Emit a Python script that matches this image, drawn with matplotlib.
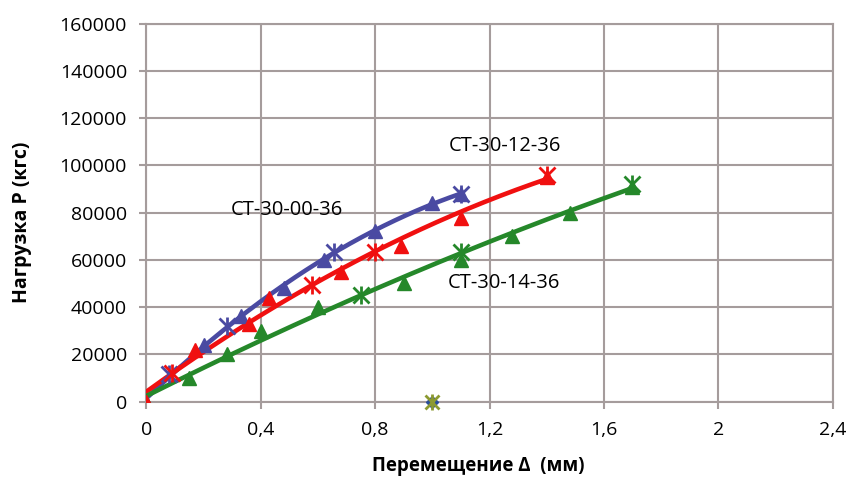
import numpy as np
import matplotlib
matplotlib.use("Agg")
import matplotlib.pyplot as plt

plt.rcParams['font.family'] = ['Open Sans', 'DejaVu Sans']

# ---- data ----
blue_tri_x = [0, 0.20, 0.33, 0.48, 0.62, 0.80, 1.00, 1.10]
blue_tri_y = [0, 24000, 36000, 48000, 60000, 72000, 84000, 88000]
blue_star_x = [0.08, 0.28, 0.655, 1.10]
blue_star_y = [11500, 32000, 63500, 88000]

red_tri_x = [0, 0.17, 0.36, 0.43, 0.68, 0.89, 1.10, 1.40]
red_tri_y = [0, 22000, 33000, 44000, 55000, 66000, 77500, 95000]
red_star_x = [0.09, 0.58, 0.80, 1.40]
red_star_y = [12000, 49500, 63500, 96000]

green_tri_x = [0, 0.15, 0.28, 0.40, 0.60, 0.90, 1.10, 1.28, 1.48, 1.70]
green_tri_y = [0, 10000, 20000, 30000, 40000, 50000, 60000, 70000, 80000, 91000]
green_star_x = [0.75, 1.10, 1.70]
green_star_y = [45000, 63500, 92000]

extra_x = [1.0]
extra_y = [0]

labels = ['СТ-30-00-36', 'СТ-30-12-36', 'СТ-30-14-36']
label_pos_x = [0.49, 1.255, 1.25]
label_pos_y = [81000, 108000, 50000]

x_ticks = [0, 0.4, 0.8, 1.2, 1.6, 2.0, 2.4]
x_tick_labels = ['0', '0,4', '0,8', '1,2', '1,6', '2', '2,4']
y_ticks = [0, 20000, 40000, 60000, 80000, 100000, 120000, 140000, 160000]

BLUE = '#4a4aa2'
RED = '#f01010'
GREEN = '#25882a'
GRID = '#a59c9c'

fig = plt.figure(figsize=(8.56, 4.78), dpi=100)
ax = fig.add_axes([0.1711, 0.160, 0.8015, 0.7908])

series = [
    (blue_tri_x, blue_tri_y, blue_star_x, blue_star_y, BLUE),
    (red_tri_x, red_tri_y, red_star_x, red_star_y, RED),
    (green_tri_x, green_tri_y, green_star_x, green_star_y, GREEN),
]

# trend lines (2nd-order polynomial fit, as in the source chart)
for tx, ty, sx, sy, c in series:
    xs = np.array(tx + sx)
    ys = np.array(ty + sy)
    coef = np.polyfit(xs, ys, 2)
    xx = np.linspace(0, xs.max(), 200)
    ax.plot(xx, np.polyval(coef, xx), color=c, lw=3.3, zorder=3, solid_capstyle='round')

for tx, ty, sx, sy, c in series:
    ax.plot(sx, sy, ls='none', marker='x', ms=11, mew=2, color=c, zorder=4)
    ax.plot(sx, sy, ls='none', marker='|', ms=13, mew=2, color=c, zorder=4)
    ax.plot(tx, ty, ls='none', marker='^', ms=9.5, color=c, mec=c, zorder=5)

# red origin triangle on top
ax.plot(red_tri_x[:1], red_tri_y[:1], ls='none', marker='^', ms=9.5, color=RED, zorder=6)

# stray point on the x axis
ax.plot(extra_x, extra_y, ls='none', marker='D', ms=6, color='#2a4f9a', zorder=6, clip_on=False)
ax.plot(extra_x, extra_y, ls='none', marker='x', ms=10, mew=2, color='#8c9a30', zorder=7, clip_on=False)
ax.plot(extra_x, extra_y, ls='none', marker='|', ms=11, mew=2, color='#8c9a30', zorder=7, clip_on=False)

for t, lx, ly in zip(labels, label_pos_x, label_pos_y):
    ax.text(lx, ly, t, fontsize=14.5, ha='center', va='center', zorder=8)

ax.set_xlim(0, 2.4)
ax.set_ylim(0, 160000)
ax.set_xticks(x_ticks)
ax.set_xticklabels(x_tick_labels)
ax.set_yticks(y_ticks)
ax.set_yticklabels([str(v) for v in y_ticks])
ax.grid(True, color=GRID, lw=1.5, zorder=0)
ax.set_axisbelow(True)
for s in ax.spines.values():
    s.set_color(GRID)
    s.set_linewidth(1.5)
ax.tick_params(axis='both', direction='out', length=5, width=1.5, color=GRID,
               labelsize=14, pad=9, labelcolor='black')

fig.text(0.5584, 0.0251, 'Перемещение Δ  (мм)', fontsize=13.5, fontweight='bold',
         ha='center', va='center')
fig.text(0.0257, 0.5356, 'Нагрузка P (кгс)', fontsize=14, fontweight='bold',
         ha='center', va='center', rotation=90)

fig.savefig('out.png', dpi=100)
